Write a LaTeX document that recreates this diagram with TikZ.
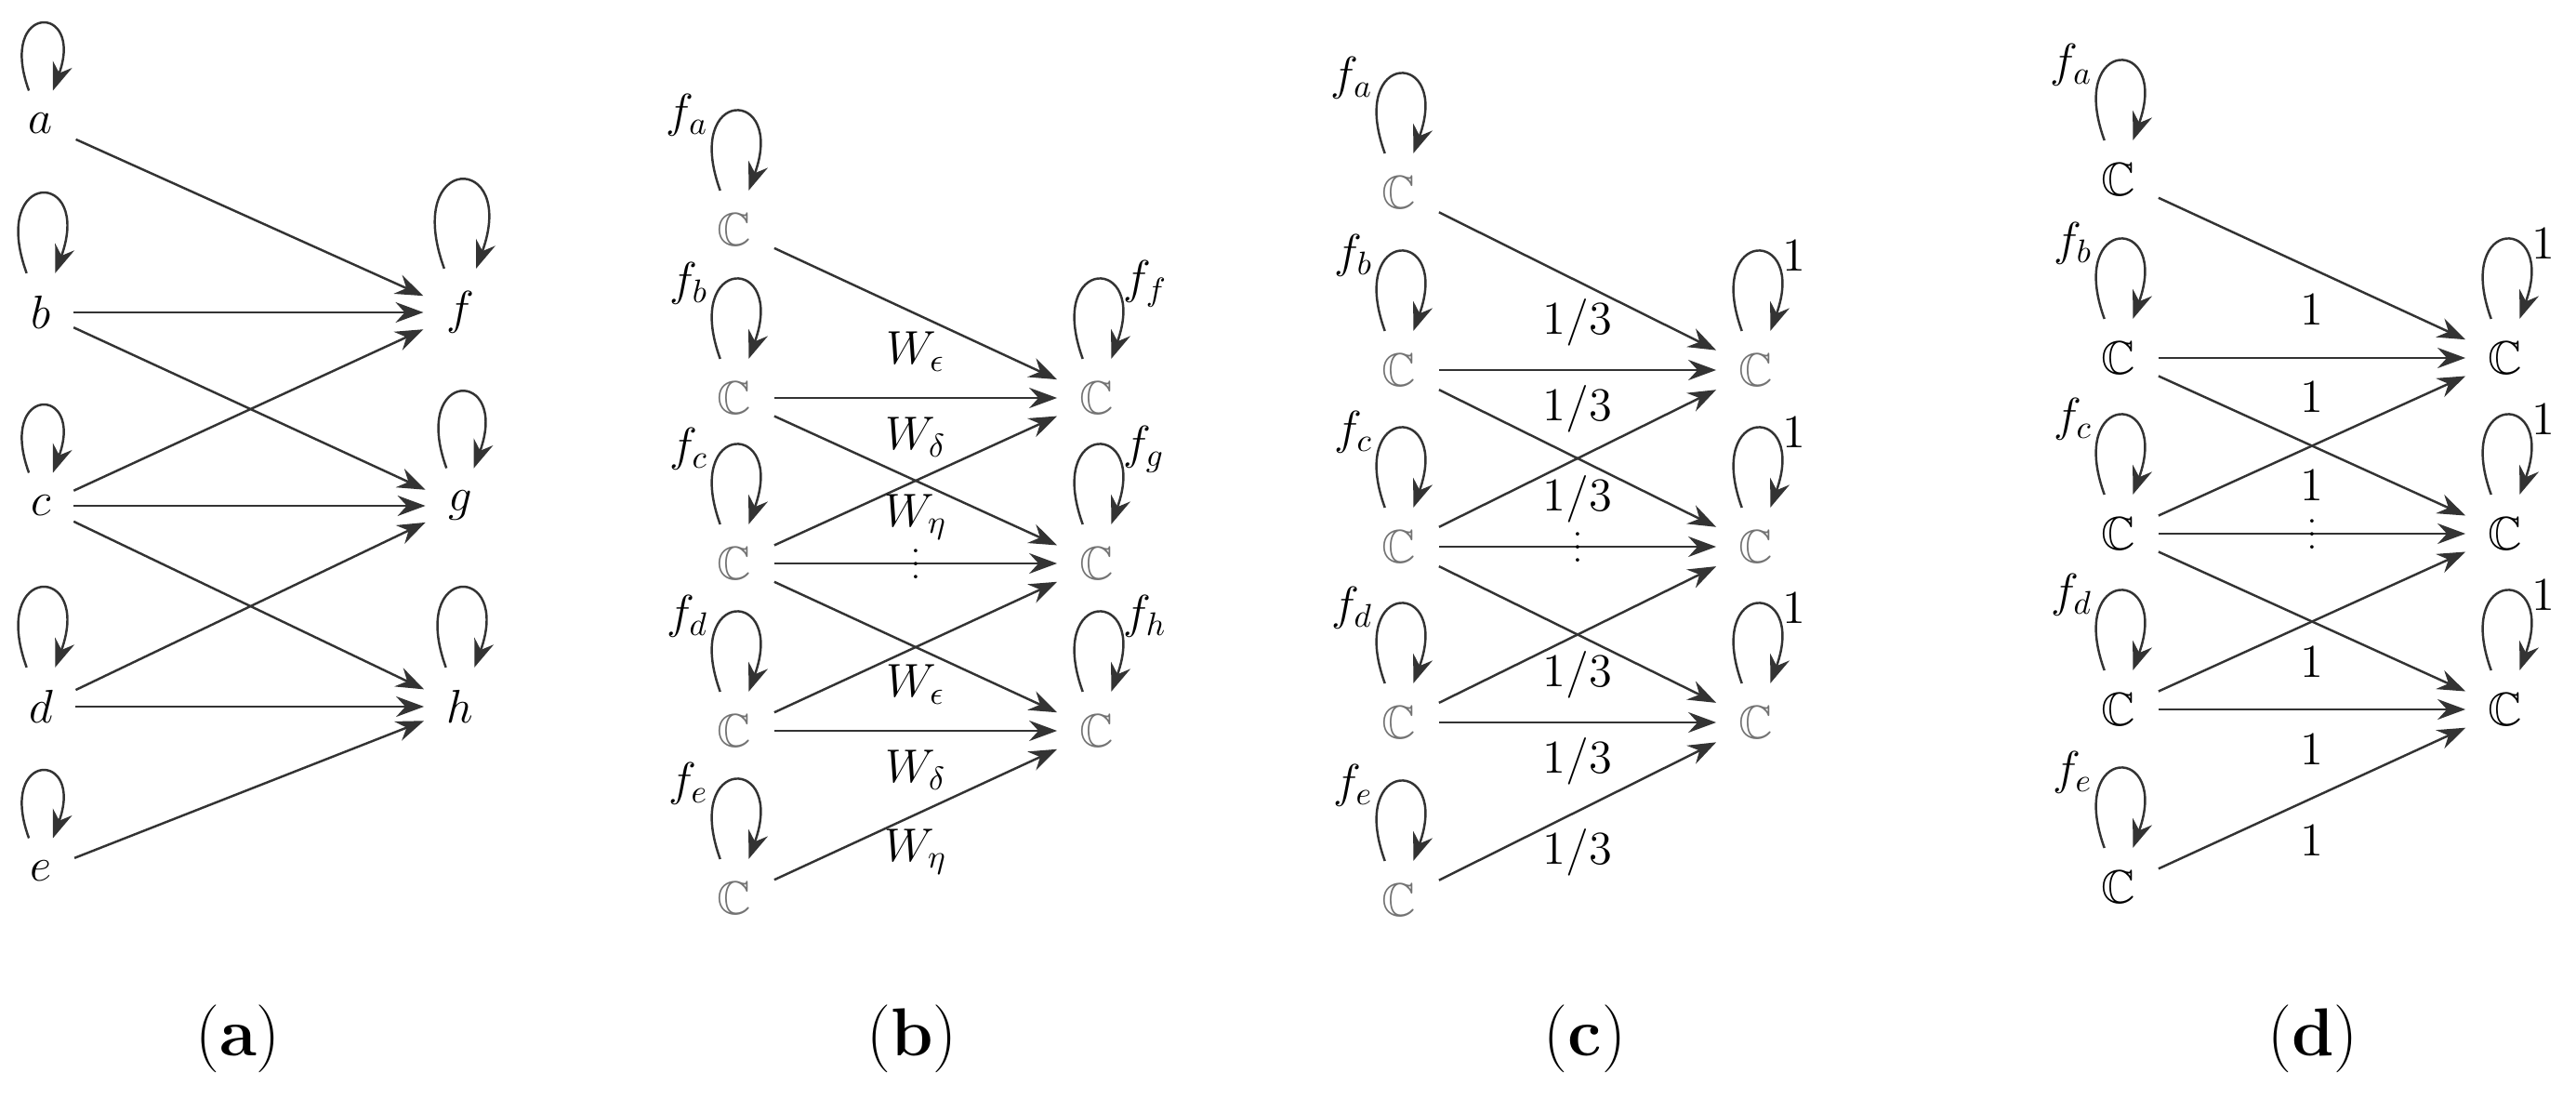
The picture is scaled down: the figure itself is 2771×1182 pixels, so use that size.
\documentclass[tikz,border=0pt]{standalone}
\usepackage{amsmath}
\usepackage{amssymb}
\usetikzlibrary{arrows.meta}
\begin{document}
\begin{tikzpicture}[x=0.01cm,y=-0.01cm]
\tikzset{vertex/.style = {font=\Large, inner sep=2pt, outer sep=5pt}}
\tikzset{field/.style = {vertex, text=black!55}}
\tikzset{edge/.style = {-{Stealth[length=3mm,width=2.2mm,inset=1mm]}, line width=0.7pt, black!80}}
\tikzset{self/.style = {out=110, in=70, looseness=10, min distance=5mm}}
\tikzset{wlabel/.style = {font=\Large, text=black}}
\tikzset{caption/.style = {font=\huge}}
\useasboundingbox (0,0) rectangle (2771,1182);
% (a)
\node[vertex](a) at (44,133) {$a$};
\node[vertex](b) at (44,336) {$b$};
\node[vertex](c) at (44,544) {$c$};
\node[vertex](d) at (44,760) {$d$};
\node[vertex](e) at (44,937) {$e$};
\node[vertex](f) at (495,336) {$f$};
\node[vertex](g) at (495,544) {$g$};
\node[vertex](h) at (495,760) {$h$};
\foreach \v in {a,b,c,d,e,f,g,h}
  \draw[edge] (\v) to[self] (\v);
\draw[edge] (a) -- (f);
\draw[edge] (b) -- (f);
\draw[edge] (b) -- (g);
\draw[edge] (c) -- (f);
\draw[edge] (c) -- (g);
\draw[edge] (c) -- (h);
\draw[edge] (d) -- (g);
\draw[edge] (d) -- (h);
\draw[edge] (e) -- (h);
\node[caption](capa) at (256,1117) {(\textbf{a})};
% (b)
\foreach \v/\y in {a/247,b/428,c/606,d/786,e/966} {
  \node[field](B\v) at (790,\y) {$\mathbb{C}$};
  \draw[edge] (B\v) to[self] node[wlabel, pos=0.4, left=0.5mm] {$f_\v$} (B\v);
}
\foreach \v/\y in {f/428,g/606,h/786} {
  \node[field](B\v) at (1180,\y) {$\mathbb{C}$};
  \draw[edge] (B\v) to[self] node[wlabel, pos=0.6, right=0.5mm] {$f_\v$} (B\v);
}
\draw[edge] (Ba) -- (Bf);
\draw[edge] (Bb) -- (Bf);
\draw[edge] (Bb) -- (Bg);
\draw[edge] (Bc) -- (Bf);
\draw[edge] (Bc) -- (Bg);
\draw[edge] (Bc) -- (Bh);
\draw[edge] (Bd) -- (Bg);
\draw[edge] (Bd) -- (Bh);
\draw[edge] (Be) -- (Bh);
\node[wlabel](wb1) at (985,378) {$W_\epsilon$};
\node[wlabel](wb2) at (985,470) {$W_\delta$};
\node[wlabel](wb3) at (985,556) {$W_\eta$};
\node(db) at (985,596) {$\vdots$};
\node[wlabel](wb4) at (985,736) {$W_\epsilon$};
\node[wlabel](wb5) at (985,828) {$W_\delta$};
\node[wlabel](wb6) at (985,916) {$W_\eta$};
\node[caption](capb) at (981,1117) {(\textbf{b})};
% (c)
\foreach \v/\y in {a/207,b/398,c/588,d/777,e/968} {
  \node[field](C\v) at (1505,\y) {$\mathbb{C}$};
  \draw[edge] (C\v) to[self] node[wlabel, pos=0.4, left=0.5mm] {$f_\v$} (C\v);
}
\foreach \v/\y in {f/398,g/588,h/777} {
  \node[field](C\v) at (1889,\y) {$\mathbb{C}$};
  \draw[edge] (C\v) to[self] node[wlabel, pos=0.6, right=0.5mm] {$1$} (C\v);
}
\draw[edge] (Ca) -- (Cf);
\draw[edge] (Cb) -- (Cf);
\draw[edge] (Cb) -- (Cg);
\draw[edge] (Cc) -- (Cf);
\draw[edge] (Cc) -- (Cg);
\draw[edge] (Cc) -- (Ch);
\draw[edge] (Cd) -- (Cg);
\draw[edge] (Cd) -- (Ch);
\draw[edge] (Ce) -- (Ch);
\foreach \n/\y in {1/347,2/440,3/537,4/726,5/819,6/917}
  \node[wlabel](wc\n) at (1697,\y) {$1/3$};
\node(dc) at (1697,578) {$\vdots$};
\node[caption](capc) at (1705,1117) {(\textbf{c})};
% (d)
\foreach \v/\y in {a/193,b/385,c/574,d/763,e/954} {
  \node[vertex](D\v) at (2279,\y) {$\mathbb{C}$};
  \draw[edge] (D\v) to[self] node[wlabel, pos=0.4, left=0.5mm] {$f_\v$} (D\v);
}
\foreach \v/\y in {f/385,g/574,h/763} {
  \node[vertex](D\v) at (2695,\y) {$\mathbb{C}$};
  \draw[edge] (D\v) to[self] node[wlabel, pos=0.6, right=0.5mm] {$1$} (D\v);
}
\draw[edge] (Da) -- (Df);
\draw[edge] (Db) -- (Df);
\draw[edge] (Db) -- (Dg);
\draw[edge] (Dc) -- (Df);
\draw[edge] (Dc) -- (Dg);
\draw[edge] (Dc) -- (Dh);
\draw[edge] (Dd) -- (Dg);
\draw[edge] (Dd) -- (Dh);
\draw[edge] (De) -- (Dh);
\foreach \n/\y in {1/333,2/427,3/522,4/712,5/806,6/904}
  \node[wlabel](wd\n) at (2487,\y) {$1$};
\node(dd) at (2487,564) {$\vdots$};
\node[caption](capd) at (2488,1117) {(\textbf{d})};
\end{tikzpicture}
\end{document}
